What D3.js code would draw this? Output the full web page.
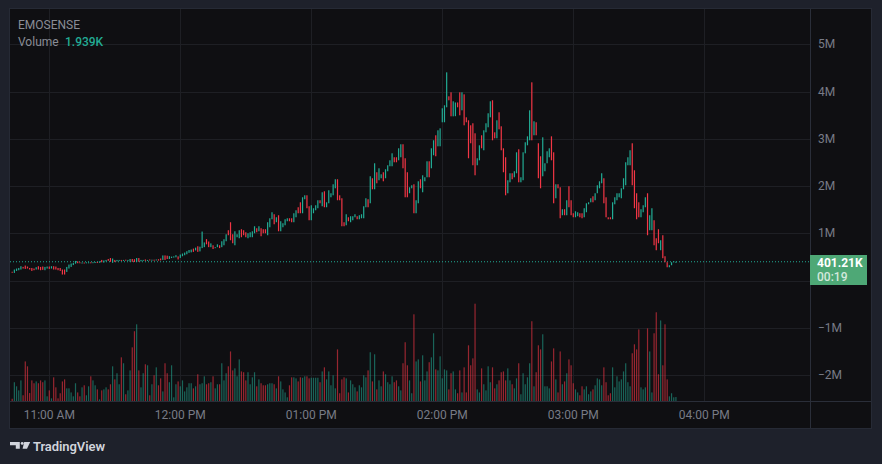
<!DOCTYPE html>
<html><head><meta charset="utf-8">
<script src="https://cdn.jsdelivr.net/npm/d3@7"></script>
<style>html,body{margin:0;padding:0;background:#1e212b;overflow:hidden}svg{display:block}</style>
</head><body><svg id="c" width="882" height="464"></svg>
<script>
// ---------- data (1-minute bars, prices in K) ----------
const symbol = "EMOSENSE";
const firstBarTime = "10:43";
const opens = [
190,165,207,222,237,292,321,300,270,270,258,237,307,292,300,222,258,300,258,307,
300,270,270,237,237,186,258,292,331,360,410,390,370,385,375,380,390,380,385,395,
380,440,385,410,460,480,380,440,410,420,440,420,445,425,400,460,455,395,480,410,
420,450,420,450,430,445,430,455,470,440,535,530,460,480,490,495,515,482,518,539,
560,590,600,680,640,729,620,690,710,880,830,710,750,690,710,750,710,750,835,1068,
1237,983,750,920,898,1089,1068,1025,898,920,920,1004,1110,1046,1110,1089,1089,962,1131,1300,
1406,1237,1385,1046,1131,1173,1258,1321,1321,1237,1342,1554,1659,1427,1723,1807,1575,1279,1427,1490,
1533,1702,1575,1892,1554,1638,1765,1807,1955,2146,1807,1744,1237,1173,1342,1237,1279,1342,1364,1300,
1321,1321,1554,1723,1638,2167,1934,2294,2125,2167,2294,2167,2315,2421,2421,2611,2611,2547,2611,2886,
2590,2294,1850,1955,2040,1427,1638,2146,1871,2103,2188,2526,2378,2653,3076,2843,2843,3351,3351,3668,
3900,3985,3477,3480,3770,3985,3604,3942,3456,3393,3287,3330,3118,2442,2547,3076,2759,3139,3245,3456,
3816,3139,3012,3562,3266,2801,2611,1850,2082,2273,2188,2273,2780,2082,2125,2695,2864,2970,4196,3076,
3351,2907,2632,2209,2315,2484,2611,3054,2716,1744,2040,1977,1385,1512,1385,1998,1702,1427,1342,1364,
1427,1427,1342,1448,1617,1659,1786,1702,1850,1955,2061,2167,1765,1342,1342,1300,1617,1702,1765,1744,
1934,2019,2442,2442,2907,2336,1850,1659,1342,1448,1554,1850,1068,1068,1279,898,1089,645,962,518,
391,285,328,391,395];
const closes = [
175,237,258,270,307,258,250,258,237,207,222,286,237,222,230,292,300,250,307,237,
237,222,207,131,131,292,342,364,376,419,370,370,385,375,390,390,380,392,395,385,
410,390,430,440,420,400,470,395,440,440,425,440,425,440,460,400,395,480,400,440,
440,420,440,435,445,435,450,425,430,535,440,460,520,510,515,540,450,554,575,596,
624,650,660,610,700,610,720,1040,810,770,710,790,670,710,770,690,835,877,983,962,
856,793,1046,983,1068,920,962,920,1004,1025,1046,1152,1025,1152,941,1004,1004,1237,1321,1448,
1194,1342,1046,1258,1216,1300,1321,1258,1237,1427,1490,1427,1427,1765,1807,1533,1279,1596,1533,1596,
1702,1638,1871,1554,1659,1913,1850,2040,2146,1702,1702,1152,1152,1406,1258,1364,1364,1406,1300,1385,
1406,1575,1744,1554,2209,1934,2484,2061,2378,2251,2103,2357,2442,2547,2695,2505,2505,2801,2886,2378,
1765,1765,1977,2019,1427,1702,2103,1955,2230,2188,2526,2188,2801,2970,2632,3181,3223,3647,3710,4407,
3816,3477,3795,3770,3668,3499,3985,3287,3351,2590,2907,2442,2230,2590,2864,2801,3181,3330,3541,3795,
2970,3012,3393,3202,2759,2294,1807,2125,2273,2146,2315,2716,2082,2188,2716,2928,3054,3604,2970,3372,
3076,2167,1955,3033,2484,2738,2801,2547,1638,2040,1955,1321,1512,1385,1702,1554,1385,1342,1469,1448,
1342,1321,1533,1638,1659,1744,1659,1850,2019,2103,2273,1638,1342,1300,1300,1659,1765,1850,1850,1955,
2167,2505,2611,2759,2019,1533,1300,1342,1512,1596,1765,962,1385,1533,750,645,793,856,476,391,
285,328,391,412,401.21];
const volumes = [
1.1,9.2,7.2,5.2,10.1,2.8,19.4,17,3.9,10.1,8.7,9.6,8.7,10.1,9.2,10.1,2.3,5.2,1.3,11.6,
6.7,1.3,3.8,9.6,10.6,6.2,6.2,4.2,2.3,8.7,4.2,2.3,6.7,7.7,2.8,7.2,12.1,10.1,7.7,5.7,
0.8,5.2,5.7,6.7,5.7,8.2,17,10.6,13.6,8.2,21.4,18.5,3.3,5.2,15,26.3,34.2,37.6,15,6.7,
13.6,18,17.5,2.8,8.2,12.6,16.5,7.7,11.1,4.7,18.5,13.6,9.2,17.5,1.8,8.2,9.6,7.2,10.1,4.7,
6.7,8.7,8.7,6.2,7.2,13.1,8.2,8.7,12.1,8.2,8.7,9.2,12.1,6.2,8.2,8.2,18.5,10.1,13.6,17,
24.3,15,16,12.1,20.4,14.5,14.1,10.1,14.1,8.2,11.6,14.1,7.2,10.6,8.7,7.7,7.7,8.2,8.7,8.7,
8.2,6.2,12.1,9.6,5.7,4.2,1.8,7.7,11.6,11.6,11.1,9.6,11.6,11.4,12.1,12.1,11.1,11.4,11.4,11.4,
11.4,9.2,14.5,16.5,10.6,14.5,7.7,12.6,6.2,25.3,3.8,10.6,11.6,11.1,4.2,10.1,8.2,6.7,4.7,7.7,
6.7,12.6,11.6,15,23.9,9.6,22.9,5.7,10.1,7.2,14.5,13.1,9.2,8.2,12.1,9.2,10.1,7.2,5.2,18.5,
28.8,17.5,10.1,3.8,42.5,19.4,20.4,9.6,22.4,10.1,14.5,19,21.4,33.2,15.5,15,21.9,11.1,15.5,15,
5.7,13.6,14.5,5.7,3.8,15,4.2,16.5,4.2,27.3,17.5,20.9,47.7,5.7,4.2,16,8.2,5.2,17,9.2,
16.5,6.2,8.2,10.1,14.1,14.5,10.1,16,10.1,8.2,6.2,11.1,18.5,3.3,13.6,8.2,11.6,18.5,39.1,7.2,
14.1,27.3,25.3,32.7,7.2,7.2,6.2,19.4,25.8,10.6,4.2,24.3,8.2,9.6,13.6,20.4,17.5,8.7,5.7,4.2,
2.8,7.2,5.7,7.2,3.3,4.7,5.7,7.7,11.1,10.6,7.7,16.5,9.2,2.8,3.8,16.5,6.7,12.1,9.6,10.6,
14.5,18.5,9.2,7.2,23.4,27.8,25.3,35.1,6.7,5.7,6.7,35.6,24.3,4.2,33.2,43.5,13.1,39.5,17.5,37.6,
10.6,2.3,3.8,1.8,1.939];
const priceTicks = [-2000,-1000,0,1000,2000,3000,4000,5000];
const priceTickLabels = ["\u22122M","\u22121M","0","1M","2M","3M","4M","5M"];
const timeTicks = ["11:00","12:00","13:00","14:00","15:00","16:00"];
const timeTickLabels = ["11:00 AM","12:00 PM","01:00 PM","02:00 PM","03:00 PM","04:00 PM"];
const lastPriceLabel = "401.21K";
const countdownLabel = "00:19";
const volumeLabel = "1.939K";

// ---------- layout ----------
const svg = d3.select("#c");
const paneL = 10, paneT = 9, paneR = 871, paneB = 428;
const plotR = 810, plotB = 401;
const FONT = "Roboto, 'Noto Sans', sans-serif";
const UP = "#22ab94", DOWN = "#f23645";
const TXT = "#787b86", GRID = "#1e1f24", SEP = "#2a2e39";

const parseT = s => { const [h,m] = s.split(":").map(Number); return new Date(2024,0,2,h,m); };
const t0 = parseT(firstBarTime);
const bars = opens.map((o,i) => ({t: d3.timeMinute.offset(t0,i), o, c: closes[i], v: volumes[i]}));

const x = d3.scaleTime().domain([parseT("11:00"), parseT("16:00")]).range([49.3, 704.3]);
const y = d3.scaleLinear().domain([-2000, 5000]).range([375.3, 44.3]);
const yv = d3.scaleLinear().domain([0, 50]).range([plotB, 299]);

svg.append("rect").attr("width",882).attr("height",464).attr("fill","#1e212b");
svg.append("rect").attr("x",paneL).attr("y",paneT).attr("width",paneR-paneL).attr("height",paneB-paneT).attr("fill","#0f0f12");

svg.append("defs").append("clipPath").attr("id","plot").append("rect")
  .attr("x",paneL).attr("y",paneT).attr("width",plotR-paneL).attr("height",plotB-paneT);

// grid
const g = svg.append("g");
g.selectAll("line.h").data(priceTicks).join("line")
  .attr("x1",paneL).attr("x2",plotR).attr("y1",d=>Math.round(y(d))+0.5).attr("y2",d=>Math.round(y(d))+0.5)
  .attr("stroke",GRID);
g.selectAll("line.v").data(timeTicks).join("line")
  .attr("y1",paneT).attr("y2",plotB).attr("x1",d=>Math.round(x(parseT(d)))+0.5).attr("x2",d=>Math.round(x(parseT(d)))+0.5)
  .attr("stroke",GRID);

const plot = svg.append("g").attr("clip-path","url(#plot)");
// volume
plot.append("g").selectAll("rect").data(bars).join("rect")
  .attr("x",d=>x(d.t)-0.6).attr("width",1.2)
  .attr("y",d=>yv(d.v)).attr("height",d=>plotB-yv(d.v))
  .attr("fill",d=>d.c>=d.o ? "rgba(34,171,148,0.55)" : "rgba(242,54,69,0.6)");

// last price dotted line
const ly = y(closes[closes.length-1]);
plot.append("line").attr("x1",paneL).attr("x2",plotR).attr("y1",ly).attr("y2",ly)
  .attr("stroke",UP).attr("stroke-width",1).attr("stroke-dasharray","1,2");

// candles
plot.append("g").selectAll("rect").data(bars).join("rect")
  .attr("x",d=>x(d.t)-0.6).attr("width",1.2)
  .attr("y",d=>y(Math.max(d.o,d.c))).attr("height",d=>Math.max(1, Math.abs(y(d.o)-y(d.c))))
  .attr("fill",d=>d.c>=d.o ? UP : DOWN);

// separators
svg.append("line").attr("x1",plotR+0.5).attr("x2",plotR+0.5).attr("y1",paneT).attr("y2",paneB).attr("stroke",SEP);
svg.append("line").attr("x1",paneL).attr("x2",paneR).attr("y1",plotB+0.5).attr("y2",plotB+0.5).attr("stroke",SEP);
svg.append("rect").attr("x",paneL-0.5).attr("y",paneT-0.5).attr("width",paneR-paneL+1).attr("height",paneB-paneT+1)
  .attr("fill","none").attr("stroke","#262a35");

// price axis labels
const boxTop = 255, boxBot = 285;
svg.append("g").selectAll("text").data(priceTicks.map((v,i)=>({v,l:priceTickLabels[i]})).filter(d=>{const yy=y(d.v);return yy<boxTop-6||yy>boxBot+6;}))
  .join("text").attr("x",818).attr("y",d=>y(d.v)+4).attr("fill",TXT)
  .attr("font-family",FONT).attr("font-size",12).text(d=>d.l);

// time axis labels
svg.append("g").selectAll("text").data(timeTicks.map((t,i)=>({t,l:timeTickLabels[i]})))
  .join("text").attr("x",d=>x(parseT(d.t))).attr("y",418.5).attr("text-anchor","middle")
  .attr("fill",TXT).attr("font-family",FONT).attr("font-size",12).text(d=>d.l);

// last price label
svg.append("rect").attr("x",810).attr("y",boxTop).attr("width",57).attr("height",boxBot-boxTop).attr("fill","#4ea876");
svg.append("text").attr("x",817).attr("y",267).attr("fill","#ffffff").attr("font-family",FONT)
  .attr("font-size",12).attr("font-weight",700).text(lastPriceLabel);
svg.append("text").attr("x",817).attr("y",281).attr("fill","rgba(255,255,255,0.75)").attr("font-family",FONT)
  .attr("font-size",12).attr("font-weight",500).text(countdownLabel);

// legend
svg.append("text").attr("x",18).attr("y",28.5).attr("fill","#8a8d96").attr("font-family",FONT).attr("font-size",12).text(symbol);
const lg = svg.append("text").attr("x",18).attr("y",45.5).attr("font-family",FONT).attr("font-size",12);
lg.append("tspan").attr("fill","#8a8d96").text("Volume");
lg.append("tspan").attr("x",65).attr("fill",UP).attr("font-weight",500).text(volumeLabel);

// TradingView logo
const logo = svg.append("g").attr("fill","#d1d4dc");
logo.append("path").attr("d","M10,442 H19.8 V448.7 H15.8 V445.2 H10 Z");
logo.append("circle").attr("cx",22.2).attr("cy",443.4).attr("r",1.45);
logo.append("path").attr("d","M24.2,442 H30.2 L27,448.7 H22.6 Z");
svg.append("text").attr("x",33).attr("y",450.5).attr("fill","#d1d4dc").attr("font-family",FONT)
  .attr("font-size",13).attr("font-weight",600).attr("textLength",72).text("TradingView");
</script></body></html>
